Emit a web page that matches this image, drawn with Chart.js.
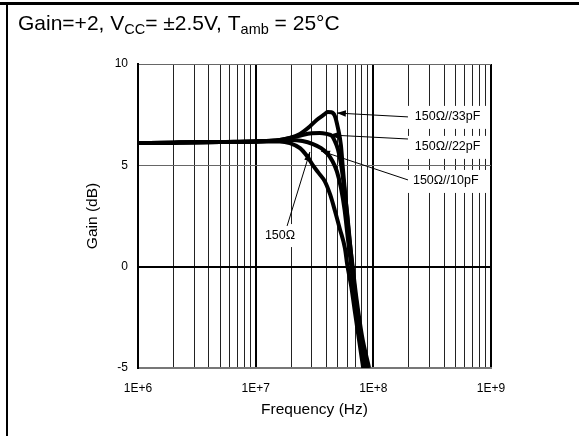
<!DOCTYPE html>
<html>
<head>
<meta charset="utf-8">
<script src="https://cdn.jsdelivr.net/npm/chart.js@4.4.1/dist/chart.umd.min.js"></script>
<style>
  html, body { margin: 0; padding: 0; background: #fff; }
  canvas { display: block; }
</style>
</head>
<body>
<canvas id="chart" width="579" height="436"></canvas>
<script>
// ---------- axes ----------
const xDecades = [1e6, 1e7, 1e8, 1e9];
const xDecadeLabels = ["1E+6", "1E+7", "1E+8", "1E+9"];
const yTicks = [-5, 0, 5, 10];

// ---------- closed-loop gain (dB) vs frequency (Hz) ----------
const freqR150 = [1e6, 2e6, 5e6, 1e7, 1.6e7, 1.95e7, 2.38e7, 2.73e7, 3.07e7, 3.4e7, 3.88e7, 4.3e7, 4.72e7, 5.2e7, 5.74e7, 6.0e7, 6.5e7, 7.0e7, 7.6e7, 8.2e7];
const gainR150 = [6.1, 6.12, 6.15, 6.18, 6.18, 6.1, 5.85, 5.46, 5.0, 4.65, 4.2, 3.55, 2.75, 1.85, 0.9, 0.1, -1.0, -2.3, -3.7, -5.0];

const freqC10 = [1e6, 2e6, 5e6, 1e7, 1.6e7, 1.95e7, 2.5e7, 3.07e7, 3.6e7, 4.04e7, 4.5e7, 4.9e7, 5.3e7, 5.7e7, 6.1e7, 6.5e7, 7.0e7, 7.7e7, 8.5e7];
const gainC10 = [6.1, 6.12, 6.15, 6.18, 6.22, 6.25, 6.2, 6.05, 5.85, 5.6, 5.2, 4.7, 3.9, 2.8, 1.3, 0.0, -1.5, -3.3, -5.0];

const freqC22 = [1e6, 2e6, 5e6, 1e7, 1.6e7, 1.95e7, 2.5e7, 3.0e7, 3.5e7, 4.0e7, 4.45e7, 4.7e7, 5.0e7, 5.3e7, 5.6e7, 6.0e7, 6.3e7, 6.6e7, 7.0e7, 7.8e7, 8.8e7];
const gainC22 = [6.1, 6.12, 6.15, 6.18, 6.25, 6.35, 6.5, 6.58, 6.6, 6.55, 6.45, 6.2, 5.8, 5.1, 4.1, 2.6, 1.3, 0.1, -1.3, -3.3, -5.0];

const freqC33 = [1e6, 2e6, 5e6, 1e7, 1.6e7, 1.95e7, 2.38e7, 2.8e7, 3.3e7, 3.8e7, 4.1e7, 4.4e7, 4.7e7, 5.0e7, 5.3e7, 5.5e7, 5.8e7, 6.2e7, 6.7e7, 7.2e7, 8.0e7, 9.2e7];
const gainC33 = [6.1, 6.12, 6.15, 6.18, 6.25, 6.35, 6.55, 6.85, 7.24, 7.5, 7.63, 7.62, 7.45, 6.85, 6.0, 4.9, 3.4, 1.6, -0.1, -1.6, -3.4, -5.0];

// ---------- curve callouts (data coordinates) ----------
const notes = [
  { text: "150\u03A9//33pF", tip: [4.9e7, 7.58], tail: [1.97e8, 7.39], at: [2.25e8, 7.39], align: "left" },
  { text: "150\u03A9//22pF", tip: [4.2e7, 6.5],  tail: [1.97e8, 6.30], at: [2.25e8, 5.91], align: "left" },
  { text: "150\u03A9//10pF", tip: [3.59e7, 5.71], tail: [1.97e8, 4.28], at: [2.17e8, 4.23], align: "left" },
  { text: "150\u03A9",       tip: [2.89e7, 5.66], tail: [1.85e7, 2.01], at: [1.61e7, 1.56], align: "center" }
];

const FONT = "'Liberation Sans', Arial, sans-serif";

// every 1..9 x 10^n line across the three decades
const gridFreqs = [];
for (let e = 6; e < 9; e++) for (let m = 1; m < 10; m++) gridFreqs.push(m * Math.pow(10, e));
gridFreqs.push(1e9);

function isDecade(v) {
  const l = Math.log10(v);
  return Math.abs(l - Math.round(l)) < 1e-9;
}

function pts(fs, gs) {
  return fs.map((f, i) => ({ x: f, y: gs[i] }));
}

function curve(fs, gs) {
  return {
    data: pts(fs, gs),
    showLine: true,
    borderColor: "#000",
    borderWidth: 4,
    pointRadius: 0,
    cubicInterpolationMode: "monotone",
    fill: false
  };
}

// white label boxes under the callout text, then arrows + text on top
const calloutPlugin = {
  id: "callouts",
  beforeDatasetsDraw(chart) {
    const { ctx, scales: { x, y }, chartArea } = chart;
    ctx.save();
    ctx.font = "12.5px " + FONT;
    ctx.fillStyle = "#fff";
    notes.forEach(n => {
      const px = x.getPixelForValue(n.at[0]);
      const py = y.getPixelForValue(n.at[1]);
      const w = ctx.measureText(n.text).width;
      let left = n.align === "left" ? px - 8 : px - w / 2 - 5;
      let right = n.align === "left" ? px + w + 8 : px + w / 2 + 3;
      right = Math.min(right, chartArea.right - 2);
      ctx.fillRect(left, py - 11, right - left, 23);
    });
    ctx.restore();
  },
  afterDatasetsDraw(chart) {
    const { ctx, scales: { x, y } } = chart;
    ctx.save();
    ctx.strokeStyle = "#000";
    ctx.fillStyle = "#000";
    ctx.lineWidth = 1;
    notes.forEach(n => {
      const tx = x.getPixelForValue(n.tip[0]), ty = y.getPixelForValue(n.tip[1]);
      const sx = x.getPixelForValue(n.tail[0]), sy = y.getPixelForValue(n.tail[1]);
      const ang = Math.atan2(ty - sy, tx - sx);
      ctx.beginPath();
      ctx.moveTo(sx, sy);
      ctx.lineTo(tx, ty);
      ctx.stroke();
      // arrow head
      const L = 9, H = 3.2;
      ctx.beginPath();
      ctx.moveTo(tx, ty);
      ctx.lineTo(tx - L * Math.cos(ang) + H * Math.sin(ang), ty - L * Math.sin(ang) - H * Math.cos(ang));
      ctx.lineTo(tx - L * Math.cos(ang) - H * Math.sin(ang), ty - L * Math.sin(ang) + H * Math.cos(ang));
      ctx.closePath();
      ctx.fill();

      ctx.font = "12.5px " + FONT;
      ctx.textAlign = n.align;
      ctx.textBaseline = "middle";
      ctx.fillText(n.text, x.getPixelForValue(n.at[0]), y.getPixelForValue(n.at[1]));
    });
    ctx.restore();
  },
  afterDraw(chart) {
    const ctx = chart.ctx;
    ctx.save();
    // page frame
    ctx.fillStyle = "#000";
    ctx.fillRect(0, 2, 579, 3);
    ctx.fillRect(6, 2, 2, 434);

    // heading with subscripts
    const parts = [
      ["Gain=+2, V", 21, 0],
      ["CC", 14.5, 4],
      ["= \u00B12.5V, T", 21, 0],
      ["amb", 14.5, 4],
      [" = 25\u00B0C", 21, 0]
    ];
    let cx = 18;
    ctx.textBaseline = "alphabetic";
    ctx.textAlign = "left";
    parts.forEach(([t, size, dy]) => {
      ctx.font = size + "px " + FONT;
      ctx.fillText(t, cx, 30 + dy);
      cx += ctx.measureText(t).width;
    });
    ctx.restore();
  }
};

new Chart(document.getElementById("chart"), {
  type: "scatter",
  data: {
    datasets: [
      curve(freqR150, gainR150),
      curve(freqC10, gainC10),
      curve(freqC22, gainC22),
      curve(freqC33, gainC33)
    ]
  },
  options: {
    responsive: false,
    animation: false,
    devicePixelRatio: 1,
    layout: { padding: { left: 60, top: 64, right: 88, bottom: 0 } },
    plugins: { legend: { display: false }, tooltip: { enabled: false } },
    scales: {
      x: {
        type: "logarithmic",
        min: 1e6,
        max: 1e9,
        afterBuildTicks: s => { s.ticks = gridFreqs.map(v => ({ value: v, major: isDecade(v) })); },
        afterFit: s => { s.height = 68; },
        ticks: {
          autoSkip: false,
          maxRotation: 0,
          padding: 13,
          color: "#000",
          font: { family: FONT, size: 12 },
          callback: v => {
            const i = xDecades.findIndex(d => Math.abs(d - v) < 1);
            return i >= 0 ? xDecadeLabels[i] : "";
          }
        },
        grid: {
          drawTicks: false,
          color: c => (c.tick && isDecade(c.tick.value)) ? "#000" : "#222",
          lineWidth: c => (c.tick && isDecade(c.tick.value)) ? 2 : 1
        },
        border: { display: true, color: "#777", width: 2 },
        title: {
          display: true,
          text: "Frequency (Hz)",
          color: "#000",
          font: { family: FONT, size: 15.5 },
          padding: { top: 0, bottom: 17 }
        }
      },
      y: {
        min: -5,
        max: 10,
        afterBuildTicks: s => { s.ticks = yTicks.map(v => ({ value: v })); },
        afterFit: s => { s.width = 78; },
        ticks: {
          padding: 10,
          color: "#000",
          font: { family: FONT, size: 12 }
        },
        grid: {
          drawTicks: false,
          color: c => (c.tick && c.tick.value === 0) ? "#000" : "#666",
          lineWidth: c => (c.tick && c.tick.value === 0) ? 2 : 1
        },
        border: { display: true, color: "#000", width: 2 },
        title: {
          display: true,
          text: "Gain (dB)",
          color: "#000",
          font: { family: FONT, size: 15.5 },
          padding: { top: 23, bottom: 0 }
        }
      }
    }
  },
  plugins: [calloutPlugin]
});
</script>
</body>
</html>
